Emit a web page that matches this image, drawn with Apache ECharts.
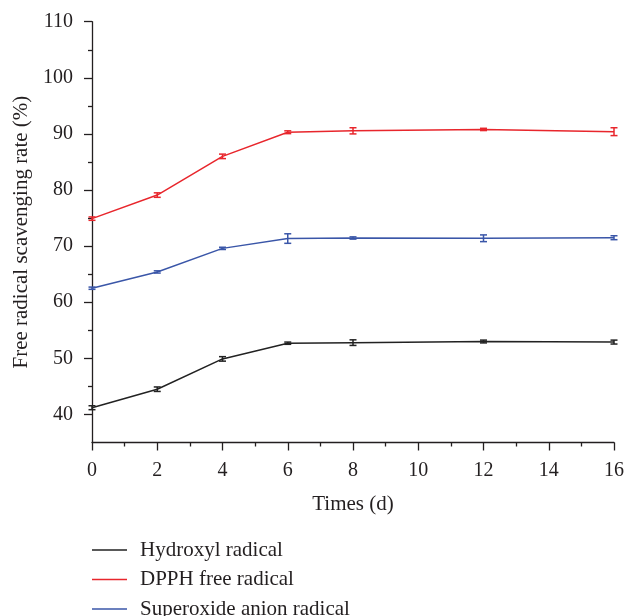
<!DOCTYPE html>
<html>
<head>
<meta charset="utf-8">
<script src="https://cdn.jsdelivr.net/npm/echarts@6/dist/echarts.min.js"></script>
<style>html,body{margin:0;padding:0;background:#fff}#c{width:627px;height:616px}</style>
</head>
<body>
<div id="c"></div>
<script>
const days = [0, 2, 4, 6, 8, 12, 16];
const hydroxyl = [41.2, 44.5, 49.9, 52.7, 52.8, 53.0, 52.9];
const hydroxylErr = [0.35, 0.4, 0.4, 0.2, 0.5, 0.25, 0.35];
const dpph = [74.9, 79.1, 86.0, 90.3, 90.55, 90.8, 90.4];
const dpphErr = [0.3, 0.4, 0.4, 0.25, 0.55, 0.2, 0.7];
const superoxide = [62.5, 65.4, 69.6, 71.35, 71.45, 71.4, 71.5];
const superoxideErr = [0.2, 0.2, 0.2, 0.85, 0.2, 0.6, 0.35];
const yMajorTicks = [40, 50, 60, 70, 80, 90, 100, 110];
const yMinorTicks = [45, 55, 65, 75, 85, 95, 105];
const names = ['Hydroxyl radical', 'DPPH free radical', 'Superoxide anion radical'];

const FONT = 'Liberation Serif';
const TXT = '#231f20';
const colors = ['#222222', '#e8262c', '#3a56a8'];
const values = [hydroxyl, dpph, superoxide];
const errs = [hydroxylErr, dpphErr, superoxideErr];

const series = [];
values.forEach((vals, i) => {
  series.push({
    name: names[i], type: 'line', data: days.map((d, j) => [d, vals[j]]),
    showSymbol: false, symbol: 'none', lineStyle: { color: colors[i], width: 1.5 },
    itemStyle: { color: colors[i] }, z: 2
  });
  series.push({
    name: names[i] + ' err', type: 'custom',
    data: days.map((d, j) => [d, vals[j] - errs[i][j], vals[j] + errs[i][j]]),
    renderItem: function (params, api) {
      const lo = api.coord([api.value(0), api.value(1)]);
      const hi = api.coord([api.value(0), api.value(2)]);
      const w = 3.5;
      const st = { stroke: colors[i], lineWidth: 1.5 };
      return { type: 'group', children: [
        { type: 'line', shape: { x1: lo[0], y1: lo[1], x2: hi[0], y2: hi[1] }, style: st },
        { type: 'line', shape: { x1: lo[0] - w, y1: lo[1], x2: lo[0] + w, y2: lo[1] }, style: st },
        { type: 'line', shape: { x1: hi[0] - w, y1: hi[1], x2: hi[0] + w, y2: hi[1] }, style: st }
      ]};
    },
    encode: { x: 0, y: [1, 2] }, z: 3, silent: true
  });
});

const legendTops = [539.5, 569, 598.5];
const legends = names.map((n, i) => ({
  data: [n], orient: 'vertical', left: 92, top: legendTops[i], padding: 0,
  icon: 'rect', itemWidth: 35, itemHeight: 1.3, itemGap: 0,
  textStyle: { fontFamily: FONT, fontSize: 21, color: TXT, lineHeight: 21, padding: [0, 0, 0, 8] }
}));

const chart = echarts.init(document.getElementById('c'), null, { renderer: 'canvas' });
chart.setOption({
  animation: false,
  backgroundColor: '#fff',
  grid: { left: 92, right: 11.5, top: 21.7, bottom: 173.5, containLabel: false },
  xAxis: {
    type: 'value', min: 0, max: 16, interval: 2,
    name: 'Times (d)', nameLocation: 'middle', nameGap: 51,
    nameTextStyle: { fontFamily: FONT, fontSize: 21, color: TXT },
    axisLine: { show: true, lineStyle: { color: TXT, width: 1.3 } },
    axisTick: { show: true, length: 8, inside: false, lineStyle: { color: TXT, width: 1.3 } },
    minorTick: { show: true, splitNumber: 2, length: 4, lineStyle: { color: TXT, width: 1.3 } },
    splitLine: { show: false },
    axisLabel: { fontFamily: FONT, fontSize: 20, color: TXT, margin: 18 }
  },
  yAxis: [{
    type: 'value', min: 35, max: 110, interval: 5,
    name: 'Free radical scavenging rate (%)', nameLocation: 'middle', nameGap: 59,
    nameTextStyle: { fontFamily: FONT, fontSize: 21, color: TXT },
    axisLine: { show: true, lineStyle: { color: TXT, width: 1.3 } },
    axisTick: { show: true, length: 8, customValues: yMajorTicks, lineStyle: { color: TXT, width: 1.3 } },
    splitLine: { show: false },
    axisLabel: { fontFamily: FONT, fontSize: 20, color: TXT, margin: 19, customValues: yMajorTicks }
  }, {
    type: 'value', min: 35, max: 110, interval: 5, position: 'left', offset: 0,
    axisLine: { show: false },
    axisTick: { show: true, length: 4, customValues: yMinorTicks, lineStyle: { color: TXT, width: 1.3 } },
    splitLine: { show: false },
    axisLabel: { show: false }
  }],
  legend: legends,
  series: series
});
</script>
</body>
</html>
